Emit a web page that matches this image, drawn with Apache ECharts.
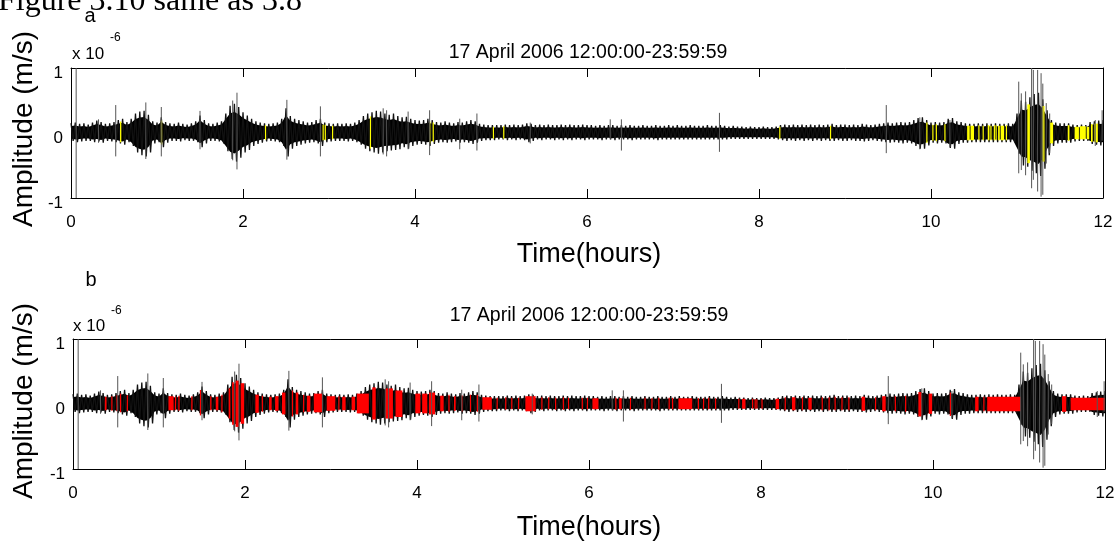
<!DOCTYPE html>
<html>
<head>
<meta charset="utf-8">
<script src="https://cdn.jsdelivr.net/npm/echarts@6/dist/echarts.min.js"></script>
<style>
html,body{margin:0;padding:0;background:#fff;}
#chart{width:1120px;height:552px;}
</style>
</head>
<body>
<div id="chart"></div>
<script>
// ---------------- DATA (amplitudes in units of 1e-6 m/s, time in hours) ----------------
const sampleStepHours = 0.05;          // envelope samples every 0.05 h, from 0 to 12 h
const envHigh = [
0.15,0.16,0.14,0.15,0.13,0.16,0.19,0.17,0.14,0.15,0.17,0.20,0.22,0.17,0.22,0.30,0.33,0.34,0.28,0.18,
0.16,0.24,0.17,0.15,0.14,0.16,0.14,0.13,0.15,0.18,0.27,0.20,0.15,0.14,0.16,0.18,0.30,0.42,0.45,0.40,
0.32,0.27,0.22,0.18,0.16,0.15,0.14,0.15,0.16,0.22,0.38,0.26,0.22,0.20,0.18,0.16,0.17,0.20,0.22,0.16,
0.15,0.14,0.15,0.14,0.15,0.14,0.16,0.20,0.26,0.30,0.32,0.34,0.33,0.30,0.28,0.30,0.26,0.24,0.25,0.22,
0.20,0.19,0.20,0.22,0.20,0.17,0.16,0.18,0.16,0.15,0.17,0.16,0.18,0.20,0.18,0.14,0.13,0.12,0.12,0.12,
0.12,0.13,0.12,0.13,0.12,0.13,0.15,0.14,0.12,0.13,0.12,0.13,0.12,0.12,0.13,0.12,0.13,0.12,0.12,0.13,
0.12,0.12,0.11,0.12,0.11,0.12,0.12,0.11,0.12,0.11,0.12,0.11,0.11,0.12,0.11,0.11,0.12,0.11,0.11,0.12,
0.11,0.12,0.11,0.11,0.12,0.11,0.11,0.11,0.12,0.11,0.11,0.12,0.11,0.10,0.11,0.10,0.10,0.09,0.10,0.09,
0.09,0.10,0.09,0.09,0.10,0.12,0.13,0.12,0.13,0.12,0.13,0.12,0.13,0.12,0.13,0.12,0.13,0.14,0.12,0.13,
0.13,0.12,0.13,0.12,0.14,0.13,0.12,0.13,0.14,0.15,0.16,0.15,0.16,0.17,0.16,0.17,0.20,0.23,0.24,0.20,
0.16,0.17,0.16,0.17,0.22,0.23,0.18,0.17,0.15,0.14,0.14,0.15,0.14,0.15,0.14,0.15,0.14,0.14,0.15,0.14,
0.30,0.50,0.48,0.55,0.60,0.62,0.52,0.35,0.20,0.16,0.15,0.15,0.15,0.13,0.12,0.13,0.12,0.17,0.18,0.19,
0.20];
const envLow = [
-0.12,-0.14,-0.13,-0.12,-0.12,-0.14,-0.13,-0.15,-0.12,-0.13,-0.14,-0.16,-0.18,-0.14,-0.20,-0.30,-0.34,-0.36,-0.30,-0.16,
-0.14,-0.22,-0.15,-0.12,-0.12,-0.13,-0.11,-0.12,-0.12,-0.14,-0.22,-0.16,-0.12,-0.12,-0.13,-0.16,-0.28,-0.40,-0.44,-0.38,
-0.30,-0.26,-0.20,-0.17,-0.15,-0.13,-0.12,-0.13,-0.14,-0.20,-0.36,-0.24,-0.20,-0.18,-0.16,-0.15,-0.14,-0.16,-0.20,-0.14,
-0.13,-0.12,-0.12,-0.12,-0.13,-0.12,-0.14,-0.18,-0.24,-0.28,-0.30,-0.32,-0.30,-0.28,-0.27,-0.26,-0.25,-0.22,-0.24,-0.20,
-0.18,-0.17,-0.18,-0.20,-0.17,-0.15,-0.14,-0.15,-0.14,-0.13,-0.15,-0.14,-0.15,-0.17,-0.15,-0.12,-0.11,-0.11,-0.11,-0.10,
-0.10,-0.11,-0.10,-0.11,-0.10,-0.11,-0.14,-0.12,-0.10,-0.11,-0.10,-0.10,-0.11,-0.10,-0.11,-0.10,-0.11,-0.10,-0.10,-0.11,
-0.10,-0.10,-0.10,-0.11,-0.10,-0.10,-0.11,-0.10,-0.10,-0.10,-0.11,-0.10,-0.10,-0.10,-0.10,-0.10,-0.11,-0.10,-0.10,-0.10,
-0.10,-0.10,-0.10,-0.10,-0.10,-0.10,-0.10,-0.10,-0.10,-0.10,-0.10,-0.10,-0.10,-0.09,-0.09,-0.09,-0.09,-0.09,-0.09,-0.09,
-0.09,-0.09,-0.09,-0.09,-0.10,-0.11,-0.12,-0.11,-0.12,-0.11,-0.12,-0.11,-0.12,-0.11,-0.12,-0.11,-0.12,-0.12,-0.11,-0.12,
-0.12,-0.11,-0.12,-0.12,-0.13,-0.12,-0.11,-0.12,-0.13,-0.14,-0.15,-0.14,-0.15,-0.16,-0.15,-0.16,-0.20,-0.24,-0.24,-0.19,
-0.15,-0.16,-0.15,-0.16,-0.23,-0.24,-0.17,-0.15,-0.15,-0.14,-0.14,-0.14,-0.14,-0.14,-0.14,-0.14,-0.14,-0.14,-0.14,-0.14,
-0.32,-0.50,-0.52,-0.58,-0.62,-0.66,-0.55,-0.34,-0.20,-0.16,-0.15,-0.15,-0.15,-0.13,-0.12,-0.12,-0.12,-0.17,-0.18,-0.19,
-0.20];
// isolated spikes: [time h, max, min]
const spikes = [
[0.06,1.0,-1.0],[0.32,0.21,-0.15],[0.52,0.43,-0.36],[0.87,0.47,-0.40],[1.05,0.40,-0.36],[1.50,0.34,-0.25],
[1.88,0.50,-0.42],[1.93,0.62,-0.56],[2.51,0.51,-0.41],[2.90,0.41,-0.36],[3.63,0.38,-0.33],[3.67,0.35,-0.36],
[3.92,0.33,-0.25],[4.17,0.35,-0.34],[4.52,0.22,-0.25],[4.72,0.30,-0.27],[5.34,0.16,-0.16],[6.27,0.21,-0.10],
[6.40,0.21,-0.27],[7.54,0.31,-0.29],[9.48,0.43,-0.31],[9.87,0.24,-0.25],[10.22,0.20,-0.22],
[11.02,0.79,-0.62],[11.05,0.61,-0.57],[11.10,0.64,-0.65],[11.17,1.0,-0.85],[11.19,0.97,-0.72],
[11.24,0.97,-0.90],[11.28,0.92,-0.98],[11.30,0.76,-0.95],[11.34,0.46,-0.47],[11.38,0.30,-0.31],
[11.91,0.20,-0.20],[11.99,0.35,-0.12]];
// highlighted intervals [start h, end h]
const yellowSegments = [
[0.57,0.585],[1.045,1.06],[2.255,2.265],[2.925,2.935],[2.95,2.96],[3.035,3.045],[3.475,3.485],[4.165,4.175],
[4.205,4.215],[4.905,4.915],[5.025,5.035],[8.235,8.245],[8.825,8.835],[9.945,9.955],[10.015,10.025],
[10.055,10.065],[10.155,10.165],[10.42,10.45],[10.46,10.50],[10.55,10.56],[10.60,10.61],[10.66,10.68],
[10.69,10.70],[10.73,10.74],[10.75,10.76],[10.78,10.80],[10.81,10.85],[10.87,10.88],[11.12,11.15],
[11.29,11.32],[11.38,11.42],[11.59,11.61],[11.67,11.72],[11.73,11.80],[11.81,11.84],
[11.86,11.88],[11.90,11.94]];
const redSegments = [
[0.37,0.39],[0.445,0.455],[0.505,0.515],[0.545,0.56],[0.625,0.635],[1.11,1.17],[1.185,1.195],[1.225,1.235],
[1.375,1.39],[1.475,1.485],[1.595,1.61],[1.66,1.69],[1.725,1.735],[1.81,1.83],[1.85,1.87],[1.89,1.93],
[1.95,1.99],[2.12,2.16],[2.195,2.205],[2.28,2.31],[2.35,2.39],[2.43,2.47],[2.545,2.555],[2.59,2.62],
[2.675,2.685],[2.72,2.76],[2.80,2.90],[2.95,3.05],[3.085,3.095],[3.13,3.17],[3.24,3.28],[3.30,3.44],
[3.48,3.52],[3.63,3.72],[3.75,3.83],[3.98,4.04],[4.06,4.12],[4.14,4.21],[4.27,4.31],[4.365,4.375],
[4.43,4.45],[4.515,4.525],[4.615,4.625],[4.695,4.705],[4.76,4.87],[4.925,4.935],[5.025,5.035],
[5.095,5.105],[5.175,5.185],[5.26,5.38],[5.445,5.455],[5.525,5.535],[5.605,5.615],[5.695,5.705],
[5.755,5.765],[5.915,5.925],[5.975,5.985],[6.04,6.11],[6.305,6.315],[6.35,6.38],[6.475,6.485],
[6.645,6.655],[6.725,6.735],[6.805,6.815],[6.925,6.935],[6.965,6.975],[7.04,7.20],[7.265,7.275],
[7.325,7.335],[7.385,7.395],[7.465,7.475],[7.735,7.745],[7.78,7.82],[7.895,7.905],[7.925,7.935],
[7.945,7.955],[8.005,8.015],[8.17,8.21],[8.275,8.285],[8.36,8.40],[8.475,8.485],[8.55,8.59],
[8.705,8.715],[8.785,8.795],[8.855,8.865],[8.935,8.945],[9.015,9.025],[9.17,9.21],[9.325,9.335],
[9.41,9.45],[9.555,9.565],[9.675,9.685],[9.83,9.87],[9.95,9.99],[10.195,10.205],[10.49,10.53],
[10.585,10.595],[10.63,11.02],[11.50,11.55],[11.60,12.0]];
const xTicks = {min:0, max:12, interval:2};
const yTicks = {min:-1, max:1, interval:1};
const panelTitle = '17 April 2006 12:00:00-23:59:59';
const panelLetters = ['a','b'];
const yLabel = 'Amplitude (m/s)';
const xLabel = 'Time(hours)';
const figureCaption = 'Figure 3.10 same as 3.8';

// ---------------- CHART ----------------
const chart = echarts.init(document.getElementById('chart'), null, {renderer:'canvas'});
const FONT = 'Liberation Sans, Arial, sans-serif';
const CORE = 0.72;   // share of the excursion drawn as the dense solid core
const coreHi = envHigh.map((v,i)=>[i*sampleStepHours, v*CORE]);
const coreLo = envLow.map((v,i)=>[i*sampleStepHours, v*CORE]);
// oscillating trace through the recorded max / min of each sample window
const trace = [];
envHigh.forEach((v,i)=>{
  trace.push([i*sampleStepHours, v]);
  if (i < envLow.length-1) trace.push([(i+0.5)*sampleStepHours, envLow[i]]);
});

const grids = [
  {left:71, top:68, width:1032, height:130},
  {left:73, top:339, width:1032, height:130}
];
const xAxes = [], yAxes = [], series = [];
grids.forEach((g,gi)=>{
  const base = {gridIndex:gi, type:'value', min:xTicks.min, max:xTicks.max, interval:xTicks.interval,
    axisLine:{show:true,onZero:false,lineStyle:{color:'#000',width:1}},
    axisTick:{show:true,inside:true,length:9,lineStyle:{color:'#000',width:1}},
    splitLine:{show:false}};
  xAxes.push(Object.assign({}, base, {position:'bottom',
    axisLabel:{show:true,margin:16,color:'#000',fontSize:17,fontFamily:FONT}}));
  xAxes.push(Object.assign({}, base, {position:'top', axisLabel:{show:false}}));
  const ybase = {gridIndex:gi, type:'value', min:yTicks.min, max:yTicks.max, interval:yTicks.interval,
    axisLine:{show:true,onZero:false,lineStyle:{color:'#000',width:1}},
    axisTick:{show:true,inside:true,length:9,lineStyle:{color:'#000',width:1}},
    splitLine:{show:false}};
  yAxes.push(Object.assign({}, ybase, {position:'left',
    axisLabel:{show:true,margin:8,color:'#000',fontSize:17,fontFamily:FONT,
      verticalAlign:'top',lineHeight:10}}));
  yAxes.push(Object.assign({}, ybase, {position:'right', axisLabel:{show:false}}));
  const xi = gi*2, yi = gi*2;
  [coreHi, coreLo].forEach(d=>{
    series.push({type:'line', xAxisIndex:xi, yAxisIndex:yi, data:d,
      symbol:'none', smooth:false, silent:true, z:2,
      lineStyle:{width:0}, areaStyle:{color:'#000',opacity:1,origin:0}});
  });
  series.push({type:'line', xAxisIndex:xi, yAxisIndex:yi, data:trace, symbol:'none', smooth:false,
    silent:true, z:2, lineStyle:{color:'#111', width:1.3}});
  const segs = gi===0 ? yellowSegments : redSegments;
  series.push({type:'custom', xAxisIndex:xi, yAxisIndex:yi, data:segs, z:3, silent:true, clip:true,
    itemStyle:{color: gi===0 ? '#ffff00' : '#ff0000'},
    renderItem:(params, api)=>{
      const s = api.value(0), e = api.value(1);
      const idx = Math.min(envHigh.length-1, Math.round(((s+e)/2)/sampleStepHours));
      const p1 = api.coord([s, envHigh[idx]*0.8]);
      const p2 = api.coord([e, envLow[idx]*0.8]);
      return {type:'rect', shape:{x:p1[0], y:p1[1], width:Math.max(1.2, p2[0]-p1[0]), height:p2[1]-p1[1]},
        style:{fill: api.visual('color')}};
    }});
  series.push({type:'custom', xAxisIndex:xi, yAxisIndex:yi, data:spikes, z:4, silent:true, clip:true,
    itemStyle:{color:'#555'},
    renderItem:(params, api)=>{
      const t = api.value(0);
      const a = api.coord([t, Math.min(1, api.value(1))]);
      const b = api.coord([t, Math.max(-1, api.value(2))]);
      return {type:'line', shape:{x1:a[0], y1:a[1], x2:b[0], y2:b[1]},
        style:{stroke:'#555', lineWidth:1}};
    }});
});

function txt(x, y, text, size, opts){
  opts = opts || {};
  return {type:'text', x:x, y:y, rotation:opts.rot||0, z:10, silent:true,
    style:{text:text, fill:'#000', font: size+'px '+(opts.family||FONT),
      align:opts.align||'center', verticalAlign:'middle'}};
}
const graphics = [
  txt(-2, 2, figureCaption, 32, {align:'left', family:'Liberation Serif, Times New Roman, serif'}),
  txt(90, 16, panelLetters[0], 20),
  txt(91, 280, panelLetters[1], 20),
  txt(72, 54, 'x 10', 17, {align:'left'}),
  txt(110, 38, '-6', 12, {align:'left'}),
  txt(73, 326, 'x 10', 17, {align:'left'}),
  txt(111, 311, '-6', 12, {align:'left'}),
  txt(588, 53, panelTitle, 19.5),
  txt(589, 316, panelTitle, 19.5),
  txt(24.6, 129, yLabel, 28, {rot:Math.PI/2}),
  txt(24.6, 401, yLabel, 28, {rot:Math.PI/2}),
  txt(589, 255, xLabel, 27),
  txt(589, 528, xLabel, 27)
];

chart.setOption({
  animation:false,
  backgroundColor:'#fff',
  grid: grids.map(g=>Object.assign({show:false, containLabel:false}, g)),
  xAxis: xAxes,
  yAxis: yAxes,
  series: series,
  graphic: graphics
});
</script>
</body>
</html>
